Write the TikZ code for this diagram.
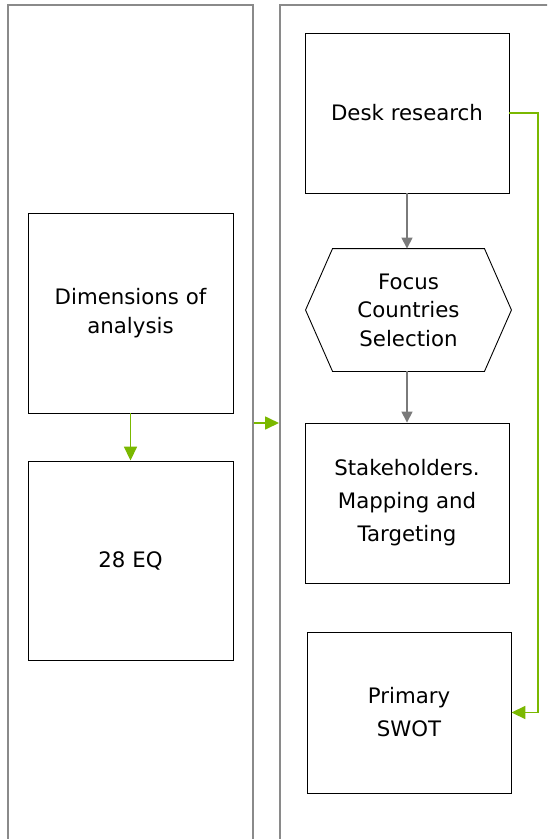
\documentclass[tikz,border=0pt]{standalone}
\usepackage{fontspec}
\setmainfont{DejaVu Sans}
\usetikzlibrary{arrows.meta}
\definecolor{grn}{HTML}{7AB800}
\definecolor{pgray}{HTML}{8A8A8A}
\definecolor{agray}{HTML}{7A7A7A}
\begin{document}
\begin{tikzpicture}[x=1pt,y=-1pt,
  panel/.style={draw=pgray,line width=2pt,inner sep=0pt,minimum height=900pt},
  box/.style={draw=black,line width=0.9pt,inner sep=0pt,align=center,font=\fontsize{21.3}{28.5}\selectfont},
  wide/.style={font=\fontsize{21.3}{33}\selectfont},
  garrow/.style={draw=grn,line width=1.7pt,-{Triangle[length=14pt,width=13pt]}},
  aarrow/.style={draw=agray,line width=1.5pt,-{Triangle[length=11pt,width=11pt]}}]
\useasboundingbox (0,0) rectangle (547,839);
\clip (0,0) rectangle (547,839);
\fill[white] (0,0) rectangle (547,839);
% panels
\node[panel,minimum width=245pt] (lpanel) at (130.5,455) {};
\node[panel,minimum width=320pt] (rpanel) at (440,455) {};
% left boxes
\node[box,minimum width=205pt,minimum height=200pt] (dim) at (130.5,313) {Dimensions of\\analysis};
\node[box,minimum width=205pt,minimum height=199pt] (eq) at (130.5,560.5) {28 EQ};
% right boxes
\node[box,minimum width=204pt,minimum height=160pt] (desk) at (407,113) {Desk research};
\node[box,draw=none,minimum width=205pt,minimum height=122pt] (hex) at (408.5,310) {Focus\\Countries\\Selection};
\draw[black,line width=0.9pt] (hex.west) -- ([xshift=27pt]hex.north west) -- ([xshift=-27pt]hex.north east)
  -- (hex.east) -- ([xshift=-27pt]hex.south east) -- ([xshift=27pt]hex.south west) -- cycle;
\node[box,wide,minimum width=204pt,minimum height=160pt] (stake) at (407,503) {Stakeholders.\\Mapping and\\Targeting};
\node[box,wide,minimum width=204pt,minimum height=161pt] (swot) at (409,712.5) {Primary\\SWOT};
% connectors
\coordinate (mid) at (0,423);
\draw[aarrow] (desk.south) -- (desk.south |- hex.north);
\draw[aarrow] (desk.south |- hex.south) -- (desk.south |- stake.north);
\draw[garrow] (dim.south) -- (eq.north);
\draw[garrow] (lpanel.east |- mid) -- (rpanel.west |- mid);
\draw[garrow] (desk.east) -- ++(28.5,0) |- (swot.east);
\end{tikzpicture}
\end{document}
